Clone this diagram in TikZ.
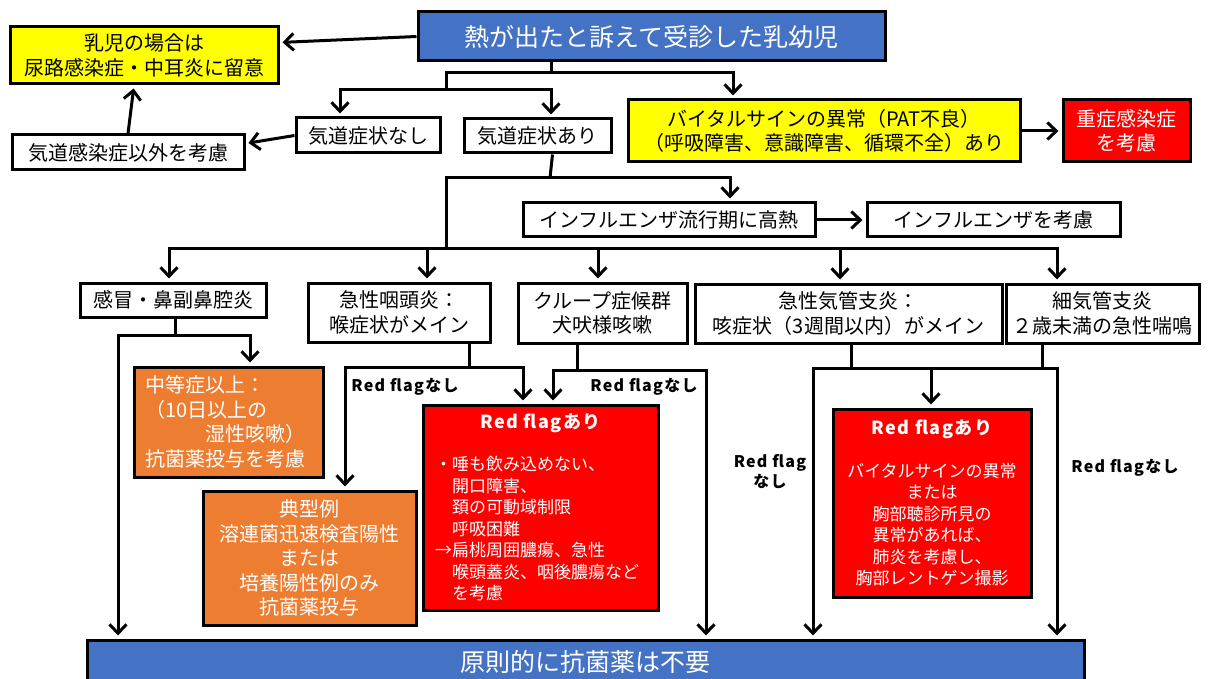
\documentclass[tikz,border=0pt]{standalone}
\usepackage{fontspec}
\setmainfont{Noto Sans CJK JP}
\newfontfamily\rffont{Noto Sans CJK JP}[LetterSpace=8]
\usetikzlibrary{arrows.meta}
\definecolor{cblue}{HTML}{4472C4}
\definecolor{cyel}{HTML}{FFFF00}
\definecolor{cred}{HTML}{FF0000}
\definecolor{corg}{HTML}{ED7D31}
\newcommand\bx[7]{\node[box,#6,minimum width={#4pt-#2pt},minimum height={#5pt-#3pt}] (#1) at ({(#2+#4)/2},{(#3+#5)/2}) {#7};}
\begin{document}
\begin{tikzpicture}[x=1pt,y=-1pt,
  box/.style={draw=black,line width=3pt,inner sep=0pt,align=center,fill=white,font=\fontsize{20}{24.5}\selectfont},
  wtxt/.style={text=white},
  big/.style={font=\fontsize{25}{30}\selectfont},
  small/.style={font=\fontsize{17}{21.5}\selectfont},
  ln/.style={line width=3pt},
  arr/.style={ln,shorten >=3pt,-{Straight Barb[length=9pt,width=17pt]}},
  dbl/.style={ln,shorten >=3pt,shorten <=3pt,{Straight Barb[length=9pt,width=17pt]}-{Straight Barb[length=9pt,width=17pt]}},
  lbl/.style={font=\rffont\bfseries\fontsize{16}{20}\selectfont,align=center,inner sep=0pt}]
\useasboundingbox (0,0) rectangle (1213,679);
\clip (0,0) rectangle (1213,679);
\fill[white] (0,0) rectangle (1213,679);
% boxes
\bx{top}{418}{12}{885}{61}{fill=cblue,wtxt,big}{熱が出たと訴えて受診した乳幼児}
\bx{infant}{10}{27}{278}{84}{fill=cyel}{乳児の場合は\\尿路感染症・中耳炎に留意}
\bx{nosym}{296}{118}{440}{153}{}{気道症状なし}
\bx{other}{12}{135}{244}{170}{}{気道感染症以外を考慮}
\bx{sym}{464}{119}{611}{153}{}{気道症状あり}
\bx{vital}{628}{100}{1020}{162}{fill=cyel}{バイタルサインの異常（PAT不良）\\（呼吸障害、意識障害、循環不全）あり}
\bx{severe}{1063}{100}{1190}{162}{fill=cred,wtxt}{重症感染症\\を考慮}
\bx{flu}{523}{203}{815}{237}{}{インフルエンザ流行期に高熱}
\bx{flucons}{867}{203}{1120}{237}{}{インフルエンザを考慮}
\bx{cold}{80}{283}{266}{317}{}{感冒・鼻副鼻腔炎}
\bx{phar}{308}{283}{490}{342}{}{急性咽頭炎：\\喉症状がメイン}
\bx{croup}{518}{283}{687}{343}{}{クループ症候群\\犬吠様咳嗽}
\bx{bronch}{695}{284}{1002}{343}{}{急性気管支炎：\\咳症状（3週間以内）がメイン}
\bx{bronchiolitis}{1006}{284}{1199}{343}{}{細気管支炎\\２歳未満の急性喘鳴}
\bx{moderate}{134}{367}{323}{477}{fill=corg,wtxt,text width=167pt,align=left}{中等症以上：\\（10日以上の\\　　　湿性咳嗽）\\抗菌薬投与を考慮}
\bx{typical}{203}{491}{416}{625}{fill=corg,wtxt}{典型例\\溶連菌迅速検査陽性\\または\\培養陽性例のみ\\抗菌薬投与}
\bx{rf1}{423}{405}{658}{610}{fill=cred,wtxt,small,text width=211pt,align=left}{\makebox[211pt]{\rffont\bfseries\fontsize{18}{22}\selectfont Red flagあり}\\[21pt]・唾も飲み込めない、\\　開口障害、\\　頚の可動域制限\\　呼吸困難\\→扁桃周囲膿瘍、急性\\　喉頭蓋炎、咽後膿瘍など\\　を考慮}
\bx{rf2}{833}{409}{1031}{597}{fill=cred,wtxt,small}{{\rffont\bfseries\fontsize{18}{22}\selectfont Red flagあり}\\[21pt]バイタルサインの異常\\または\\胸部聴診所見の\\異常があれば、\\肺炎を考慮し、\\胸部レントゲン撮影}
\bx{bottom}{87}{640}{1084}{684}{fill=cblue,wtxt,big}{原則的に抗菌薬は不要}
% junctions
\coordinate (a1) at (551,73);
\coordinate (a2) at (446,73);
\coordinate (a3) at (733,73);
\coordinate (a4) at (446,90);
\coordinate (a5) at (340,90);
\coordinate (a6) at (551,90);
\coordinate (b1) at (550,178);
\coordinate (b2) at (446,178);
\coordinate (b3) at (730,178);
\coordinate (c0) at (446,249);
\coordinate (c1) at (169,249);
\coordinate (c2) at (427,249);
\coordinate (c3) at (598,249);
\coordinate (c4) at (840,249);
\coordinate (c5) at (1057,249);
\coordinate (d0) at (175,335);
\coordinate (d1) at (118,335);
\coordinate (d2) at (250,335);
\coordinate (e0) at (469,367);
\coordinate (e1) at (345,367);
\coordinate (e2) at (523,367);
\coordinate (f0) at (577,370);
\coordinate (f1) at (553,370);
\coordinate (f2) at (706,370);
\coordinate (g0) at (851,368);
\coordinate (g1) at (813,368);
\coordinate (g2) at (1057,368);
\coordinate (g3) at (931,368);
\coordinate (g4) at (1042,368);
% connectors
\draw[arr] (top.west) -- ([yshift=13pt]infant.east);
\draw[ln] (top.south -| a1) -- (a1);
\draw[arr] (a4) -- (a2) -- (a3) -- (vital.north -| a3);
\draw[dbl] (nosym.north -| a5) -- (a5) -- (a6) -- (sym.north -| a6);
\draw[arr] (nosym.west) -- ([yshift=9pt]other.east);
\draw[arr] (other.north) -- ([xshift=-10pt]infant.south);
\draw[arr] (vital.east) -- (severe.west);
\draw[ln] ([xshift=15pt]sym.south) -- (b1);
\draw[arr] (c0) -- (b2) -- (b3) -- (flu.north -| b3);
\draw[arr] (flu.east) -- (flucons.west);
\draw[dbl] (cold.north -| c1) -- (c1) -- (c5) -- (bronchiolitis.north -| c5);
\draw[arr] (c2) -- (phar.north -| c2);
\draw[arr] (c3) -- (croup.north -| c3);
\draw[arr] (c4) -- (bronch.north -| c4);
\draw[ln] (cold.south -| d0) -- (d0);
\draw[dbl] (moderate.north -| d2) -- (d2) -- (d1) -- (bottom.north -| d1);
\draw[ln] (phar.south -| e0) -- (e0);
\draw[dbl] (typical.north -| e1) -- (e1) -- (e2) -- (rf1.north -| e2);
\draw[ln] (croup.south -| f0) -- (f0);
\draw[dbl] (rf1.north -| f1) -- (f1) -- (f2) -- (bottom.north -| f2);
\draw[ln] (bronch.south -| g0) -- (g0);
\draw[ln] (bronchiolitis.south -| g4) -- (g4);
\draw[dbl] (bottom.north -| g1) -- (g1) -- (g2) -- (bottom.north -| g2);
\draw[arr] (g3) -- (rf2.north -| g3);
% labels
\node[lbl] (l1) at (405,387) {Red flagなし};
\node[lbl] (l2) at (644,387) {Red flagなし};
\node[lbl] (l3) at (770,472) {Red flag\\なし};
\node[lbl] (l4) at (1125,468) {Red flagなし};
\end{tikzpicture}
\end{document}
